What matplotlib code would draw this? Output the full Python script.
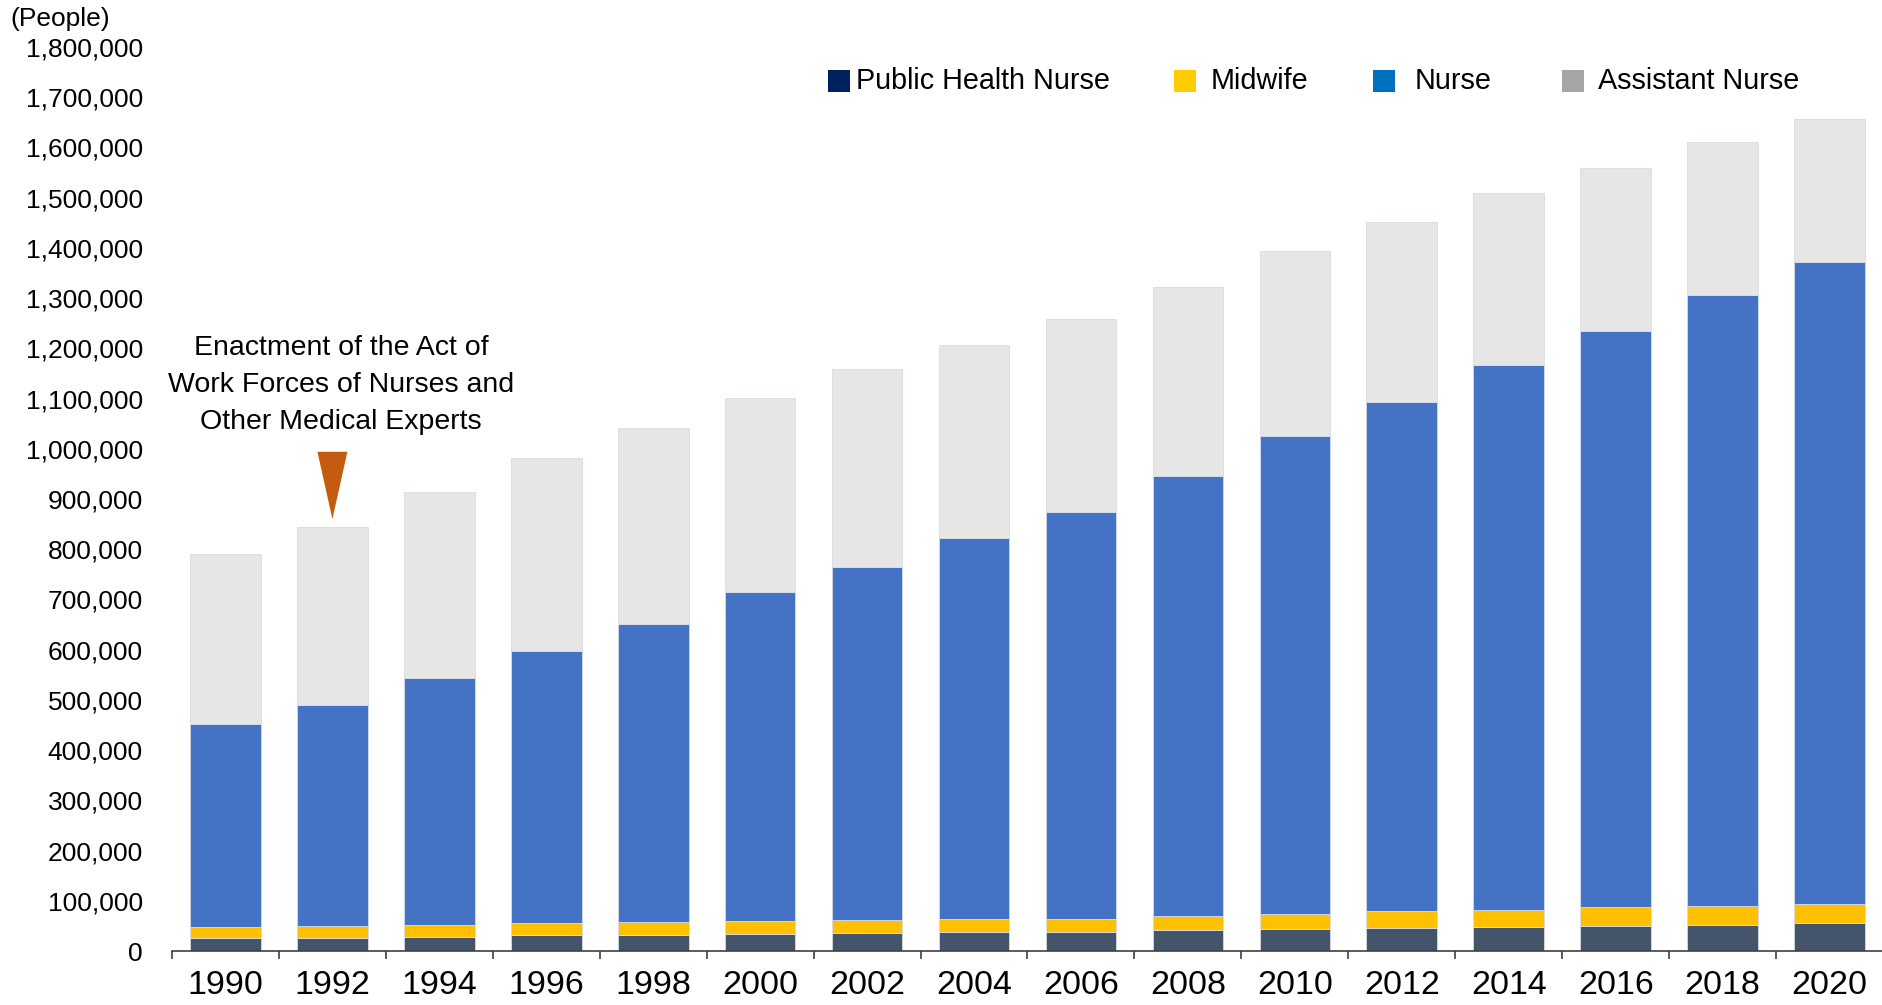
import matplotlib
matplotlib.use("Agg")
import matplotlib.pyplot as plt
import numpy as np
from matplotlib import font_manager
from matplotlib.patches import Rectangle

years = ["1990", "1992", "1994", "1996", "1998", "2000", "2002", "2004",
         "2006", "2008", "2010", "2012", "2014", "2016", "2018", "2020"]
public_health_nurse = [25000, 26300, 28800, 31000, 32800, 34500, 35900, 37800,
                       38500, 42600, 44700, 46700, 47500, 50000, 52000, 55000]
midwife = [23300, 23300, 23500, 24000, 25700, 24600, 25200, 25300,
           25900, 27900, 29300, 32000, 33900, 36700, 37400, 38500]
nurse = [403500, 440500, 490400, 542700, 591700, 655700, 703900, 759300,
         810600, 876200, 951600, 1013800, 1085200, 1146900, 1215900, 1278700]
assistant_nurse = [339500, 353800, 370500, 384800, 392100, 387200, 394500, 384800,
                   382500, 375300, 368100, 358600, 341900, 325100, 306000, 284500]

series_names = ["Public Health Nurse", "Midwife", "Nurse", "Assistant Nurse"]
bar_colors = ["#44546A", "#FFC000", "#4472C4", "#E7E6E6"]
legend_colors = ["#002060", "#FFCC00", "#0070C0", "#A6A6A6"]

names = {f.name for f in font_manager.fontManager.ttflist}
regular = "Liberation Sans"
narrow = "Liberation Sans Narrow" if "Liberation Sans Narrow" in names else regular
year_size = 28.5 if narrow != regular else 24.5

W, H = 1883, 1005
fig = plt.figure(figsize=(W / 100, H / 100), dpi=100)
ax = fig.add_axes([172 / W, 1 - 951 / H, 1 - 172 / W, (951 - 47) / H])

x = np.arange(len(years))
bottom = np.zeros(len(years))
for vals, c in zip([public_health_nurse, midwife, nurse, assistant_nurse], bar_colors):
    ax.bar(x, vals, 0.66, bottom=bottom, color=c, edgecolor="#D6DCE5", linewidth=0.6)
    bottom += np.array(vals)

ax.set_xlim(-0.5, 15.45)
ax.set_ylim(0, 1800000)
ax.set_yticks(np.arange(0, 1800001, 100000))
ax.set_yticklabels([f"{v:,}" for v in range(0, 1800001, 100000)],
                   fontsize=19, family=regular)
ax.tick_params(axis="y", length=0, pad=21)

ax.set_xticks(x)
ax.set_xticklabels(years, fontsize=year_size, family=narrow)
ax.tick_params(axis="x", which="major", length=0, pad=14)
ax.set_xticks(np.arange(-0.5, 16, 1), minor=True)
ax.tick_params(axis="x", which="minor", length=6, width=1.2, color="#404040")

for s in ["top", "right", "left"]:
    ax.spines[s].set_visible(False)
ax.spines["bottom"].set_color("#404040")
ax.spines["bottom"].set_linewidth(1.2)

fig.text(10 / W, 1 - 19 / H, "(People)", fontsize=19, family=regular, va="center")

# annotation for 1992
ax.text(1.08, 1126000, "Enactment of the Act of\nWork Forces of Nurses and\nOther Medical Experts",
        ha="center", va="center", fontsize=20.5, family=regular, linespacing=1.55)
ax.fill([0.86, 1.14, 1.0], [994000, 994000, 860000], color="#C55A11", lw=0)

# legend
sq_x = [828, 1174, 1373, 1562]
txt_x = [856, 1211, 1415, 1598]
for name, c, sx, tx in zip(series_names, legend_colors, sq_x, txt_x):
    fig.add_artist(Rectangle((sx / W, 1 - 92 / H), 22 / W, 22 / H,
                             transform=fig.transFigure, color=c, lw=0))
    fig.text(tx / W, 1 - 81 / H, name, fontsize=20.7, family=regular, va="center")

fig.savefig("out.png", dpi=100)
